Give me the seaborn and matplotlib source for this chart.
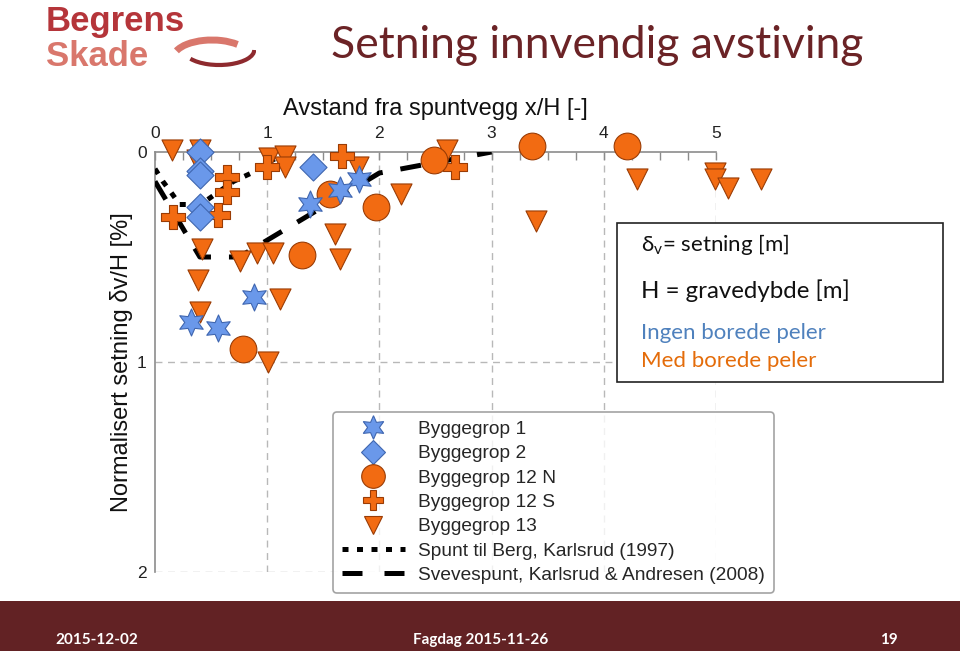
import matplotlib
matplotlib.use("Agg")
import matplotlib.pyplot as plt
import seaborn as sns
import numpy as np
import pandas as pd
from matplotlib.lines import Line2D
from matplotlib.patches import Rectangle, Arc
from matplotlib.ticker import MultipleLocator

# ---------------- data ----------------
bg1_x = [1.82, 1.65, 1.38, 0.88, 0.32, 0.56]
bg1_y = [0.13, 0.18, 0.25, 0.69, 0.81, 0.84]

bg2_x = [0.40, 0.40, 0.40, 1.41, 0.40, 0.40]
bg2_y = [0.00, 0.09, 0.11, 0.07, 0.26, 0.31]

bg12n_x = [3.36, 4.21, 2.49, 1.56, 1.97, 1.31, 0.78]
bg12n_y = [-0.03, -0.03, 0.04, 0.20, 0.26, 0.49, 0.94]

bg12s_x = [1.67, 2.67, 1.00, 0.64, 0.64, 0.16, 0.56]
bg12s_y = [0.02, 0.07, 0.07, 0.12, 0.19, 0.31, 0.30]

bg13_x = [0.15, 0.40, 0.37, 1.02, 1.16, 1.16, 1.81, 2.19, 2.60, 3.40, 4.30,
          4.99, 4.99, 5.11, 5.40, 0.42, 0.76, 0.91, 1.05, 1.60, 1.65, 0.38,
          0.40, 1.11, 1.01]
bg13_y = [-0.01, -0.01, 0.04, 0.03, 0.02, 0.07, 0.07, 0.20, -0.01, 0.33, 0.13,
          0.10, 0.13, 0.17, 0.13, 0.46, 0.52, 0.48, 0.48, 0.39, 0.51, 0.61,
          0.76, 0.70, 1.00]

berg_x = [0.0, 0.07, 0.14, 0.22, 0.34, 0.46, 0.70, 0.90, 1.00, 1.20]
berg_y = [0.08, 0.14, 0.19, 0.25, 0.25, 0.23, 0.14, 0.09, 0.05, 0.00]

sveve_x = [0.0, 0.40, 0.75, 2.00, 3.00]
sveve_y = [0.14, 0.50, 0.50, 0.10, 0.00]

x_ticks = [0, 1, 2, 3, 4, 5]
y_ticks = [0, 1, 2]

labels = ["Byggegrop 1", "Byggegrop 2", "Byggegrop 12 N", "Byggegrop 12 S",
          "Byggegrop 13", "Spunt til Berg, Karlsrud (1997)",
          "Svevespunt, Karlsrud & Andresen (2008)"]

# ---------------- style ----------------
sns.set_theme(style="white")
plt.rcParams['font.family'] = ['Liberation Sans', 'DejaVu Sans']

BLUE = "#6A98EA"
BLUE_E = "#3F66B0"
ORANGE = "#F26B12"
ORANGE_E = "#9A3C05"
DARKRED = "#622224"

DOT = (0, (1.2, 1.7))
DASH = (0, (4.2, 3.6))

fig = plt.figure(figsize=(9.6, 6.51), dpi=100)
W, H = 960, 651

def fx(px):
    return px / W

def fy(py):
    return 1 - py / H

ax = fig.add_axes([fx(155), fy(572), fx(716) - fx(155), fy(152) - fy(572)])
ax.set_facecolor("none")

# grid & spines
ax.set_xlim(0, 5)
ax.set_ylim(2, 0)
for sp in ["right", "bottom"]:
    ax.spines[sp].set_visible(False)
for sp in ["top", "left"]:
    ax.spines[sp].set_color("#8c8c8c")
    ax.spines[sp].set_linewidth(1.2)
ax.xaxis.set_ticks_position("top")
ax.xaxis.set_label_position("top")
ax.set_xticks(x_ticks)
ax.set_yticks(y_ticks)
ax.xaxis.set_minor_locator(MultipleLocator(0.25))
ax.yaxis.set_minor_locator(MultipleLocator(0.2))
ax.tick_params(axis="both", which="both", direction="in", colors="#8c8c8c",
               labelcolor="#222222", labelsize=12.5, length=6, width=1)
ax.tick_params(axis="x", which="major", pad=8)
ax.tick_params(axis="y", which="major", pad=6)
for v in x_ticks[1:]:
    ax.axvline(v, color="#b8b8b8", ls=(0, (5, 4)), lw=1.0, zorder=0)
for v in y_ticks[1:]:
    ax.axhline(v, color="#b8b8b8", ls=(0, (5, 4)), lw=1.0, zorder=0)

ax.set_xlabel("Avstand fra spuntvegg x/H [-]", fontsize=17, labelpad=8, color="#111111")
ax.set_ylabel("Normalisert setning δv/H [%]", fontsize=17, labelpad=3, color="#111111")

# lines
df_berg = pd.DataFrame({"x": berg_x, "y": berg_y})
df_sveve = pd.DataFrame({"x": sveve_x, "y": sveve_y})
sns.lineplot(data=df_berg, x="x", y="y", sort=False, ax=ax, color="black",
             lw=3.6, ls=DOT, zorder=3, dash_capstyle="butt")
sns.lineplot(data=df_sveve, x="x", y="y", sort=False, ax=ax, color="black",
             lw=3.6, ls=DASH, zorder=3)

star6 = (6, 1, 0)
groups = [
    (bg13_x, bg13_y, "v", 230, ORANGE, ORANGE_E),
    (bg12s_x, bg12s_y, "P", 290, ORANGE, ORANGE_E),
    (bg12n_x, bg12n_y, "o", 370, ORANGE, ORANGE_E),
    (bg2_x, bg2_y, "D", 190, BLUE, BLUE_E),
    (bg1_x, bg1_y, star6, 380, BLUE, BLUE_E),
]
for gx, gy, mk, s, fc, ec in groups:
    sns.scatterplot(x=gx, y=gy, marker=mk, s=s, color=fc, edgecolor=ec,
                    linewidth=0.8, ax=ax, zorder=4, clip_on=False)
for coll in ax.collections:
    coll.set_clip_on(False)

# legend
handles = [
    Line2D([], [], ls="none", marker=star6, ms=17, mfc=BLUE, mec=BLUE_E, mew=0.8),
    Line2D([], [], ls="none", marker="D", ms=12, mfc=BLUE, mec=BLUE_E, mew=0.8),
    Line2D([], [], ls="none", marker="o", ms=17, mfc=ORANGE, mec=ORANGE_E, mew=0.8),
    Line2D([], [], ls="none", marker="P", ms=15, mfc=ORANGE, mec=ORANGE_E, mew=0.8),
    Line2D([], [], ls="none", marker="v", ms=13, mfc=ORANGE, mec=ORANGE_E, mew=0.8),
    Line2D([], [], color="black", lw=3.6, ls=DOT, dash_capstyle="butt"),
    Line2D([], [], color="black", lw=3.6, ls=(0, (4.0, 4.4))),
]
leg = ax.legend(handles, labels, loc="upper left",
                bbox_to_anchor=(fx(333), fy(412)), bbox_transform=fig.transFigure,
                fontsize=13.8, frameon=True, fancybox=True, handlelength=3.3,
                handletextpad=0.7, labelspacing=0.36, borderpad=0.45,
                borderaxespad=0)
leg.get_frame().set_edgecolor("#8c8c8c")
leg.get_frame().set_linewidth(1.2)
leg.get_frame().set_facecolor("white")
leg.set_zorder(6)

# info box
fig.patches.append(Rectangle((fx(617), fy(382)), fx(943) - fx(617), fy(223) - fy(382),
                             transform=fig.transFigure, facecolor="white",
                             edgecolor="#222222", lw=1.2, zorder=5))
cal = ['Lato', 'DejaVu Sans']
fig.text(fx(641), fy(244), r"δ$_\mathregular{v}$= setning [m]", fontsize=16, family=cal,
         va="center", ha="left", zorder=7, color="#111111")
fig.text(fx(641), fy(291), "H = gravedybde [m]", fontsize=17.3, family=cal,
         va="center", ha="left", zorder=7, color="#111111")
fig.text(fx(641), fy(333), "Ingen borede peler", fontsize=16, family=cal,
         va="center", ha="left", zorder=7, color="#4F81BD")
fig.text(fx(641), fy(361), "Med borede peler", fontsize=16, family=cal,
         va="center", ha="left", zorder=7, color="#E46C0A")

# title
fig.text(fx(597), fy(45), "Setning innvendig avstiving", fontsize=32, family=cal,
         color="#6B2326", ha="center", va="center")

# logo
lf = ['Liberation Sans', 'DejaVu Sans']
fig.text(fx(46), fy(21), "Begrens", fontsize=25, family=lf,
         weight="bold", color="#B5353A", ha="left", va="center")
fig.text(fx(46), fy(56), "Skade", fontsize=25, family=lf,
         weight="bold", color="#D9776C", ha="left", va="center")
lax = fig.add_axes([fx(168), fy(70), fx(256) - fx(168), fy(30) - fy(70)])
lax.set_xlim(0, 10)
lax.set_ylim(0, 4)
lax.axis("off")
lax.add_patch(Arc((5.8, 2.0), 8.0, 3.0, theta1=195, theta2=360, color="#8E2A2E", lw=3))
lax.add_patch(Arc((5.0, 1.2), 8.8, 3.6, theta1=25, theta2=170, color="#D9776C", lw=5))

# footer
fig.patches.append(Rectangle((0, 0), 1, fy(601), transform=fig.transFigure,
                             facecolor=DARKRED, edgecolor="none", zorder=0))
ff = ['Lato', 'DejaVu Sans']
fig.text(fx(97), fy(640), "2015-12-02", fontsize=11, family=ff, weight="bold",
         color="white", ha="center", va="center")
fig.text(fx(481), fy(640), "Fagdag 2015-11-26", fontsize=11, family=ff, weight="bold",
         color="white", ha="center", va="center")
fig.text(fx(889), fy(640), "19", fontsize=11, family=ff, weight="bold",
         color="white", ha="center", va="center")

fig.savefig("out.png", dpi=100, facecolor="white")
